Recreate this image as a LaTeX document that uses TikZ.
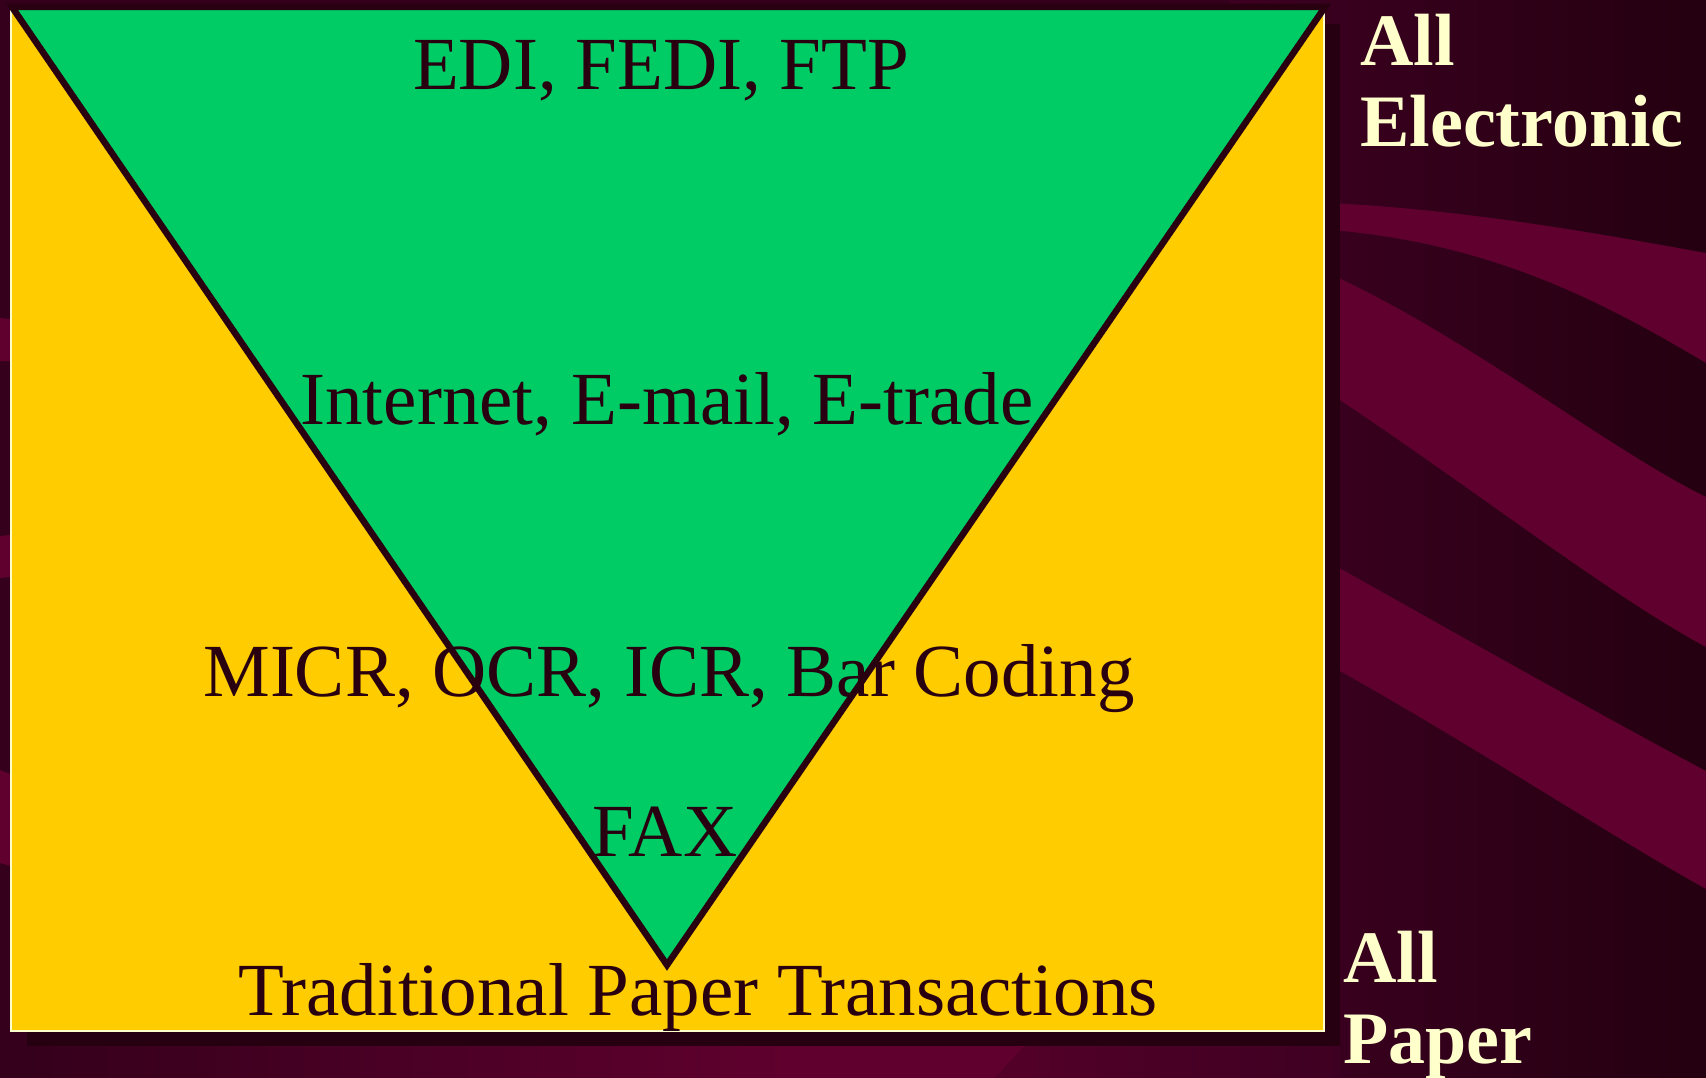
\documentclass[tikz,border=0pt]{standalone}
\usepackage{fontspec}
\setmainfont{Liberation Serif}
\usetikzlibrary{positioning}
\definecolor{bgleft}{RGB}{62,0,34}
\definecolor{bgright}{RGB}{36,0,16}
\definecolor{bandred}{RGB}{96,0,46}
\definecolor{shadowdark}{RGB}{38,0,16}
\definecolor{papergold}{RGB}{255,204,0}
\definecolor{elecgreen}{RGB}{0,204,102}
\definecolor{inkdark}{RGB}{40,0,16}
\definecolor{labelcream}{RGB}{255,255,204}

\begin{document}
\begin{tikzpicture}[x=1pt, y=-1pt,
    level/.style={anchor=base, inner sep=0pt, text=inkdark, font=\fontsize{75}{80}\selectfont},
    endlabel/.style={anchor=base west, inner sep=0pt, align=left, text=labelcream, font=\fontsize{74}{81}\selectfont\bfseries}]
\useasboundingbox (0,0) rectangle (1706,1078);
% Background
\fill[bgleft!60!bgright] (0,0) rectangle (1706,1078);
\shade[left color=bgleft, right color=bgright] (1230,0) rectangle (1706,1078);

% Wave bands (right side)
\fill[bandred] (1300,202) .. controls (1450,206) and (1600,234) .. (1706,253)
    -- (1706,363) .. controls (1600,300) and (1480,236) .. (1300,228) -- cycle;
\fill[bandred] (1300,261) .. controls (1450,322) and (1600,445) .. (1706,497)
    -- (1706,647) .. controls (1600,590) and (1450,470) .. (1300,374) -- cycle;
\fill[bandred] (1300,546) .. controls (1450,630) and (1600,715) .. (1706,771)
    -- (1706,889) .. controls (1600,830) and (1450,730) .. (1300,649) -- cycle;
% Wave bands (left edge)
\fill[bandred] (0,318) -- (40,322) -- (40,362) -- (0,361) -- cycle;
\fill[bandred] (0,536) -- (40,532) -- (40,574) -- (0,578) -- cycle;
\fill[bandred] (0,770) -- (40,786) -- (40,874) -- (0,863) -- cycle;
% Wave band (bottom strip)
\shade[left color=bgleft!60!bgright, right color=bandred] (0,1040) rectangle (800,1078);
\fill[bandred] (800,1040) -- (1030,1040) -- (995,1078) -- (800,1078) -- cycle;
\shade[left color=bandred!80!bgright, right color=bgleft] (1030,1040) -- (1340,1040)
    -- (1340,1078) -- (995,1078) -- cycle;

% Shadow and paper box
\fill[shadowdark] (27,24) rectangle (1340,1046);
\filldraw[fill=papergold, draw=labelcream, line width=1.2] (11,9) rectangle (1324,1031);

% Electronic triangle
\filldraw[fill=elecgreen, draw=inkdark, line width=6.5, line join=miter]
    (12,7) -- (1325,7) -- (667,965) -- cycle;

% Levels
\foreach \px/\py/\name/\txt in {661/90/edi/{EDI, FEDI, FTP},
    667/424/net/{Internet, E-mail, E-trade},
    669/696/micr/{MICR, OCR, ICR, Bar Coding},
    665/856/fax/{FAX},
    698/1015/trad/{Traditional Paper Transactions}}
    \node[level] (\name) at (\px,\py) {\txt};

% Ends of the scale
\node[endlabel] (allelec) at (1360,147) {All\\Electronic};
\node[endlabel] (allpaper) at (1343,1063) {All\\Paper};
\end{tikzpicture}
\end{document}
